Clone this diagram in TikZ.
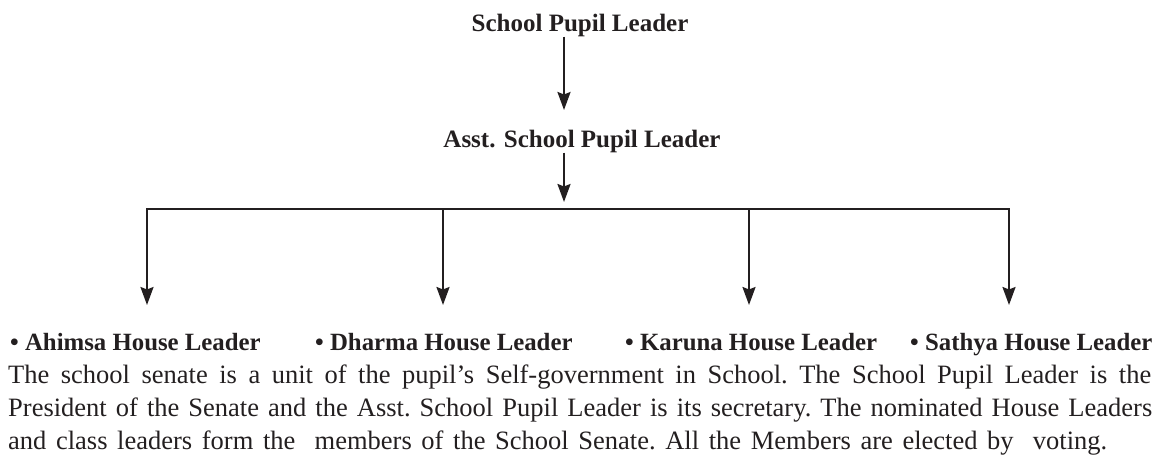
\documentclass[tikz,border=0pt]{standalone}
\usepackage{fontspec}
\setmainfont{Liberation Serif}
\usetikzlibrary{arrows.meta}
\definecolor{ink}{HTML}{231F20}
\tikzset{
  conn/.style={draw=ink, line width=2.3pt, line join=miter},
  arr/.style={conn, -{Stealth[length=18pt,width=13pt,inset=2.5pt]}},
  biarr/.style={conn, {Stealth[length=18pt,width=13pt,inset=2.5pt]}-{Stealth[length=18pt,width=13pt,inset=2.5pt]}},
  title/.style={inner sep=0pt, anchor=base, text=ink, font=\fontsize{25}{30}\selectfont\bfseries},
  house/.style={inner sep=0pt, anchor=base west, text=ink, font=\fontsize{24.8}{30}\selectfont\bfseries},
  para/.style={inner sep=0pt, anchor=base west, text=ink, font=\fontsize{26.5}{30}\selectfont\frenchspacing}
}
\begin{document}
\begin{tikzpicture}[x=1pt,y=-1pt]
\useasboundingbox (0,0) rectangle (1155,469);
% titles
\node[title] (spl) at (580,31) {School Pupil Leader};
\node[title] (aspl) at (582,147) {Asst. School Pupil Leader};
% coordinates for connectors
\coordinate (a1) at (564,110);
\coordinate (a2) at (564,202);
\coordinate (b1) at (147,209);
\coordinate (b2) at (443,209);
\coordinate (b3) at (749,209);
\coordinate (b4) at (1009,209);
\coordinate (t1) at (147,305);
\coordinate (t2) at (443,305);
\coordinate (t3) at (749,305);
\coordinate (t4) at (1009,305);
% house leaders
\node[house] (h1) at (10,350) {• Ahimsa House Leader};
\node[house] (h2) at (315,350) {• Dharma House Leader};
\node[house] (h3) at (625,350) {• Karuna House Leader};
\node[house] (h4) at (910,350) {• Sathya House Leader};
% connectors
\draw[arr] (spl.south -| a1) -- (a1);
\draw[arr] (aspl.south -| a2) -- (a2);
\draw[biarr] (t1) -- (b1) -- (b4) -- (t4);
\draw[arr] (b2) -- (t2);
\draw[arr] (b3) -- (t3);
% paragraph
\node[para] (p1) at (8,383) {\makebox[1143pt][s]{The school senate is a unit of the pupil’s Self-government in School. The School Pupil Leader is the}};
\node[para] (p2) at (8,416) {\makebox[1144pt][s]{President of the Senate and the Asst. School Pupil Leader is its secretary. The nominated House Leaders}};
\node[para] (p3) at (8,449) {\makebox[1099pt][s]{and class leaders form the~ members of the School Senate. All the Members are elected by~ voting.}};
\end{tikzpicture}
\end{document}
